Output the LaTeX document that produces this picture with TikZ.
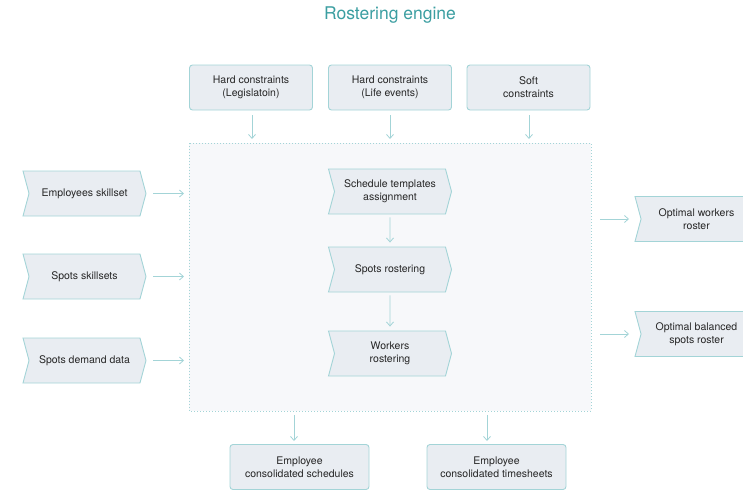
\documentclass[tikz,border=0pt]{standalone}
\usepackage{fontspec}
\setmainfont{TeX Gyre Heros}
\usetikzlibrary{shapes.symbols,arrows.meta}

\definecolor{edgeteal}{HTML}{A3D4D7}
\definecolor{boxfill}{HTML}{E9EDF2}
\definecolor{titleteal}{HTML}{3B9EA1}
\definecolor{enginefill}{HTML}{F7F8FA}

\begin{document}
\begin{tikzpicture}[x=1pt,y=-1pt,
  every node/.style={font=\fontsize{10.5}{13}\selectfont, text=black!85, align=center},
  inbox/.style={draw=edgeteal, fill=boxfill, rounded corners=3pt, line width=0.9pt,
    minimum width=123pt, minimum height=45pt, inner sep=2pt},
  chevron/.style={draw=edgeteal, fill=boxfill, line width=0.9pt, shape=signal,
    signal from=west, signal to=east, signal pointer angle=150,
    minimum width=123pt, minimum height=45pt, inner sep=2pt},
  flow/.style={draw=edgeteal, line width=0.8pt, -{Straight Barb[length=4pt,width=7pt]}}]

\useasboundingbox (0,0) rectangle (743,490);

\node[font=\fontsize{17.5}{20}\selectfont, text=titleteal] (title) at (390,15) {Rostering engine};

% engine frame
\draw[edgeteal, fill=enginefill, dotted, line width=1pt] (189,143) rectangle (591,411);
\coordinate (engine) at (390,277);

% constraints
\node[inbox] (hardleg) at (251,87.5) {Hard constraints\\(Legislatoin)};
\node[inbox] (hardlife) at (390,87.5) {Hard constraints\\(Life events)};
\node[inbox] (soft) at (528.5,87.5) {Soft\\constraints};

\draw[flow] (252,115) -- (252,139);
\draw[flow] (390,115) -- (390,139);
\draw[flow] (529,115) -- (529,139);

% inputs
\node[chevron] (empskill) at (84.5,193.5) {Employees skillset};
\node[chevron] (spotskill) at (84.5,276.5) {Spots skillsets};
\node[chevron] (spotdemand) at (84.5,360.5) {Spots demand data};

\draw[flow] (153,193.5) -- (184,193.5);
\draw[flow] (153,276.5) -- (184,276.5);
\draw[flow] (153,360.5) -- (184,360.5);

% engine steps
\node[chevron] (templates) at (390,191.5) {Schedule templates\\assignment};
\node[chevron] (spotrost) at (390,269.5) {Spots rostering};
\node[chevron] (workrost) at (390,353.5) {Workers\\rostering};

\draw[flow, shorten <=3pt, shorten >=4pt] (templates) -- (spotrost);
\draw[flow, shorten <=3pt, shorten >=4pt] (spotrost) -- (workrost);

% outputs
\node[chevron] (optworkers) at (696.5,219) {Optimal workers\\roster};
\node[chevron] (optspots) at (696.5,334) {Optimal balanced\\spots roster};

\draw[flow] (600,219) -- (629,219);
\draw[flow] (600,334) -- (629,334);

\node[inbox, minimum width=139pt] (schedules) at (299.5,467) {Employee\\consolidated schedules};
\node[inbox, minimum width=139pt] (timesheets) at (496.5,467) {Employee\\consolidated timesheets};

\draw[flow] (294,415) -- (294,441);
\draw[flow] (487,415) -- (487,441);

\end{tikzpicture}
\end{document}
